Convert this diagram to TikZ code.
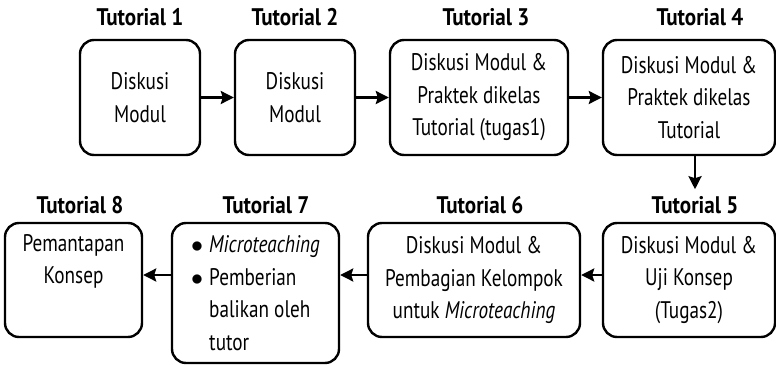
\documentclass[tikz,border=0pt]{standalone}
\usepackage{fontspec}
\setmainfont{PT Sans}[FakeStretch=0.8,BoldFeatures={FakeStretch=0.88}]
\usetikzlibrary{arrows.meta}
\begin{document}
\begin{tikzpicture}[x=0.5pt,y=-0.5pt,
  box/.style={draw,line width=1.2pt,rounded corners=7pt,inner sep=0pt,
    minimum height=57.5pt,align=center,font=\fontsize{12}{16.25}\selectfont},
  lbl/.style={font=\fontsize{12}{14}\selectfont\bfseries},
  arr/.style={line width=1.2pt,-{Stealth[length=6.5pt,width=6.5pt,inset=1pt]}}]
\useasboundingbox (0,0) rectangle (776,364);

% top row
\node[box,minimum width=60pt] (b1) at (140,97.5) {Diskusi\\Modul};
\node[box,minimum width=60pt] (b2) at (295,97.5) {Diskusi\\Modul};
\node[box,minimum width=89pt] (b3) at (479,97.5) {Diskusi Modul \&\\Praktek dikelas\\Tutorial (tugas1)};
\node[box,minimum width=86pt] (b4) at (689,97.5) {Diskusi Modul \&\\Praktek dikelas\\Tutorial};

\node[lbl] (t1) at (140,17) {Tutorial 1};
\node[lbl] (t2) at (295,17) {Tutorial 2};
\node[lbl] (t3) at (486,17) {Tutorial 3};
\node[lbl] (t4) at (700,17) {Tutorial 4};

% bottom row
\node[box,minimum width=86pt,minimum height=57pt] (b5) at (689,280) {Diskusi Modul \&\\Uji Konsep\\(Tugas2)};
\node[box,minimum width=106pt,minimum height=57pt] (b6) at (474,280) {Diskusi Modul \&\\Pembagian Kelompok\\untuk \textit{Microteaching}};
\node[box,minimum width=83.5pt,minimum height=70pt,align=left] (b7) at (255.5,293)
  {\makebox[9pt][l]{$\bullet$}\textit{Microteaching}\\
   \makebox[9pt][l]{$\bullet$}Pemberian\\
   \hspace*{9pt}balikan oleh\\
   \hspace*{9pt}tutor};
\node[box,minimum width=68.5pt,minimum height=57pt] (b8) at (73.5,280) {Pemantapan\\Konsep\\\strut};

\node[lbl] (t5) at (695,205) {Tutorial 5};
\node[lbl] (t6) at (480,205) {Tutorial 6};
\node[lbl] (t7) at (266,205) {Tutorial 7};
\node[lbl] (t8) at (80,205) {Tutorial 8};

% connectors
\coordinate (r2) at (0,275);
\draw[arr] (b1) -- (b2);
\draw[arr] (b2) -- (b3);
\draw[arr] (b3) -- (b4);
\draw[arr] (b4.south -| t5) -- (t5.north);
\draw[arr] (b5.west |- r2) -- (b6.east |- r2);
\draw[arr] (b6.west |- r2) -- (b7.east |- r2);
\draw[arr] (b7.west |- r2) -- (b8.east |- r2);
\end{tikzpicture}
\end{document}
